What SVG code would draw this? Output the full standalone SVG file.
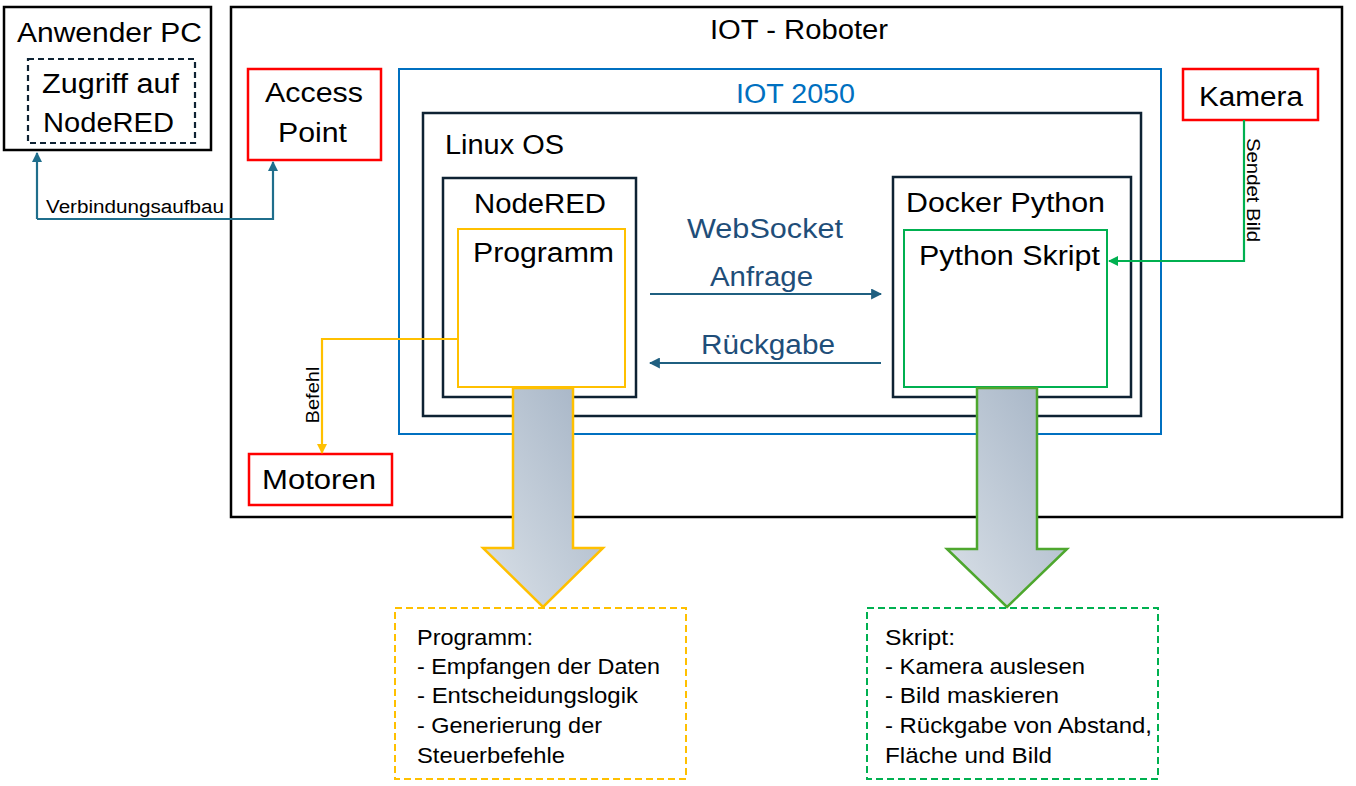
<svg xmlns="http://www.w3.org/2000/svg" width="1356" height="786" viewBox="0 0 1356 786">
<style>
text{font-family:"Liberation Sans",Arial,sans-serif;fill:#000}
.t27{font-size:27px}
.t21{font-size:21.5px}
.t16{font-size:18px}
.t18{font-size:19px}
.box{fill:none;stroke:#000;stroke-width:2.5}
.navy{fill:none;stroke:#0e2233;stroke-width:2.5}
.red{fill:#fff;stroke:#ff0000;stroke-width:2.5}
.blue{fill:none;stroke:#0070c0;stroke-width:2}
.yel{fill:#fff;stroke:#ffc000;stroke-width:2}
.grn{fill:#fff;stroke:#00b050;stroke-width:2}
.conn{fill:none;stroke-width:2.2}
.ws{fill:#1f4e79}
</style>
<defs>
<marker id="mTeal" viewBox="0 0 10 10" refX="9" refY="5" markerWidth="10" markerHeight="10" markerUnits="userSpaceOnUse" orient="auto"><path d="M0,0L10,5L0,10z" fill="#1f6e8c"/></marker>
<marker id="mWs" viewBox="0 0 10 10" refX="9" refY="5" markerWidth="11" markerHeight="11" markerUnits="userSpaceOnUse" orient="auto"><path d="M0,0L10,5L0,10z" fill="#1f5f80"/></marker>
<marker id="mYel" viewBox="0 0 10 10" refX="9" refY="5" markerWidth="10" markerHeight="10" markerUnits="userSpaceOnUse" orient="auto"><path d="M0,0L10,5L0,10z" fill="#ffc000"/></marker>
<marker id="mGrn" viewBox="0 0 10 10" refX="9" refY="5" markerWidth="10" markerHeight="10" markerUnits="userSpaceOnUse" orient="auto"><path d="M0,0L10,5L0,10z" fill="#00b050"/></marker>
<linearGradient id="gArrow" x1="1" y1="0" x2="0" y2="1">
<stop offset="0" stop-color="#a3b2c4"/>
<stop offset="1" stop-color="#dae1e8"/>
</linearGradient>
</defs>
<rect width="1356" height="786" fill="#fff"/>

<g id="anwender-pc">
<rect class="box" x="4" y="7" width="207" height="143"/>
<text class="t27" x="17" y="42" textLength="185" lengthAdjust="spacingAndGlyphs">Anwender PC</text>
<rect x="28" y="59" width="167" height="84" fill="none" stroke="#0e2233" stroke-width="2.2" stroke-dasharray="6,4"/>
<text class="t27" x="42" y="93" textLength="137" lengthAdjust="spacingAndGlyphs">Zugriff auf</text>
<text class="t27" x="43" y="132" textLength="131" lengthAdjust="spacingAndGlyphs">NodeRED</text>
</g>

<g id="iot-roboter">
<rect class="box" x="231" y="7" width="1111" height="510"/>
<text class="t27" x="710" y="39" textLength="178" lengthAdjust="spacingAndGlyphs">IOT - Roboter</text>
</g>

<g id="access-point">
<rect class="red" x="248" y="69" width="133" height="91"/>
<text class="t27" x="265" y="102" textLength="98" lengthAdjust="spacingAndGlyphs">Access</text>
<text class="t27" x="278" y="142" textLength="69" lengthAdjust="spacingAndGlyphs">Point</text>
</g>

<g id="kamera">
<rect class="red" x="1183" y="69" width="135" height="51"/>
<text class="t27" x="1199" y="106" textLength="104" lengthAdjust="spacingAndGlyphs">Kamera</text>
</g>

<g id="motoren">
<rect class="red" x="249" y="454" width="143" height="51"/>
<text class="t27" x="262" y="489" textLength="114" lengthAdjust="spacingAndGlyphs">Motoren</text>
</g>

<g id="iot-2050">
<rect class="blue" x="399" y="69" width="762" height="365"/>
<text class="t27" x="736" y="103" textLength="119" lengthAdjust="spacingAndGlyphs" style="fill:#0070c0">IOT 2050</text>
</g>

<g id="linux-os">
<rect class="navy" x="423" y="113" width="718" height="303"/>
<text class="t27" x="445" y="154" textLength="119" lengthAdjust="spacingAndGlyphs">Linux OS</text>
</g>

<g id="nodered">
<rect class="navy" x="443" y="178" width="193" height="219"/>
<text class="t27" x="474" y="213" textLength="132" lengthAdjust="spacingAndGlyphs">NodeRED</text>
</g>

<g id="programm">
<rect class="yel" x="458" y="229" width="167" height="158"/>
<text class="t27" x="473" y="262" textLength="141" lengthAdjust="spacingAndGlyphs">Programm</text>
</g>

<g id="docker-python">
<rect class="navy" x="893" y="177" width="238" height="220"/>
<text class="t27" x="906" y="212" textLength="199" lengthAdjust="spacingAndGlyphs">Docker Python</text>
</g>

<g id="python-skript">
<rect class="grn" x="904" y="230" width="203" height="157"/>
<text class="t27" x="919" y="265" textLength="181" lengthAdjust="spacingAndGlyphs">Python Skript</text>
</g>

<g id="connectors">
<path class="conn" stroke="#1f6e8c" d="M37,219 L37,153" marker-end="url(#mTeal)"/>
<path class="conn" stroke="#1f6e8c" d="M37,219 L273,219 L273,162" marker-end="url(#mTeal)"/>
<text class="t16" x="46" y="213" textLength="178" lengthAdjust="spacingAndGlyphs">Verbindungsaufbau</text>

<path class="conn" stroke="#ffc000" d="M458,339 L322,339 L322,453" marker-end="url(#mYel)"/>
<text class="t18" transform="translate(319,395) rotate(-90)" text-anchor="middle" textLength="57" lengthAdjust="spacingAndGlyphs">Befehl</text>

<path class="conn" stroke="#00b050" d="M1244,120 L1244,261 L1109,261" marker-end="url(#mGrn)"/>
<text class="t18" transform="translate(1247,190) rotate(90)" text-anchor="middle" textLength="104" lengthAdjust="spacingAndGlyphs">Sendet Bild</text>

<path class="conn" stroke="#1f5f80" d="M650,294 L881,294" marker-end="url(#mWs)"/>
<path class="conn" stroke="#1f5f80" d="M881,363 L650,363" marker-end="url(#mWs)"/>
<text class="t27 ws" x="687" y="238" textLength="156" lengthAdjust="spacingAndGlyphs">WebSocket</text>
<text class="t27 ws" x="710" y="286" textLength="103" lengthAdjust="spacingAndGlyphs">Anfrage</text>
<text class="t27 ws" x="701" y="354" textLength="134" lengthAdjust="spacingAndGlyphs">Rückgabe</text>
</g>

<g id="arrow-programm">
<polygon points="513,388 573,388 573,548 603,548 543,607 483,548 513,548" fill="url(#gArrow)" stroke="#ffc000" stroke-width="2.5" stroke-linejoin="miter"/>
</g>
<g id="arrow-skript">
<polygon points="977,388 1037,388 1037,549 1067,549 1007,607 947,549 977,549" fill="url(#gArrow)" stroke="#4ea72e" stroke-width="2.5"/>
</g>

<g id="note-programm">
<rect x="395" y="608" width="291" height="171" fill="none" stroke="#ffc000" stroke-width="2" stroke-dasharray="7,4"/>
<text class="t21" x="417" y="645" textLength="116" lengthAdjust="spacingAndGlyphs">Programm:</text>
<text class="t21" x="417" y="674" textLength="243" lengthAdjust="spacingAndGlyphs">- Empfangen der Daten</text>
<text class="t21" x="417" y="703" textLength="221" lengthAdjust="spacingAndGlyphs">- Entscheidungslogik</text>
<text class="t21" x="417" y="733" textLength="185" lengthAdjust="spacingAndGlyphs">- Generierung der</text>
<text class="t21" x="417" y="763" textLength="148" lengthAdjust="spacingAndGlyphs">Steuerbefehle</text>
</g>

<g id="note-skript">
<rect x="867" y="608" width="291" height="171" fill="none" stroke="#00b050" stroke-width="2" stroke-dasharray="7,4"/>
<text class="t21" x="885" y="645" textLength="70" lengthAdjust="spacingAndGlyphs">Skript:</text>
<text class="t21" x="885" y="674" textLength="200" lengthAdjust="spacingAndGlyphs">- Kamera auslesen</text>
<text class="t21" x="885" y="703" textLength="174" lengthAdjust="spacingAndGlyphs">- Bild maskieren</text>
<text class="t21" x="885" y="733" textLength="267" lengthAdjust="spacingAndGlyphs">- Rückgabe von Abstand,</text>
<text class="t21" x="885" y="763" textLength="167" lengthAdjust="spacingAndGlyphs">Fläche und Bild</text>
</g>
</svg>
